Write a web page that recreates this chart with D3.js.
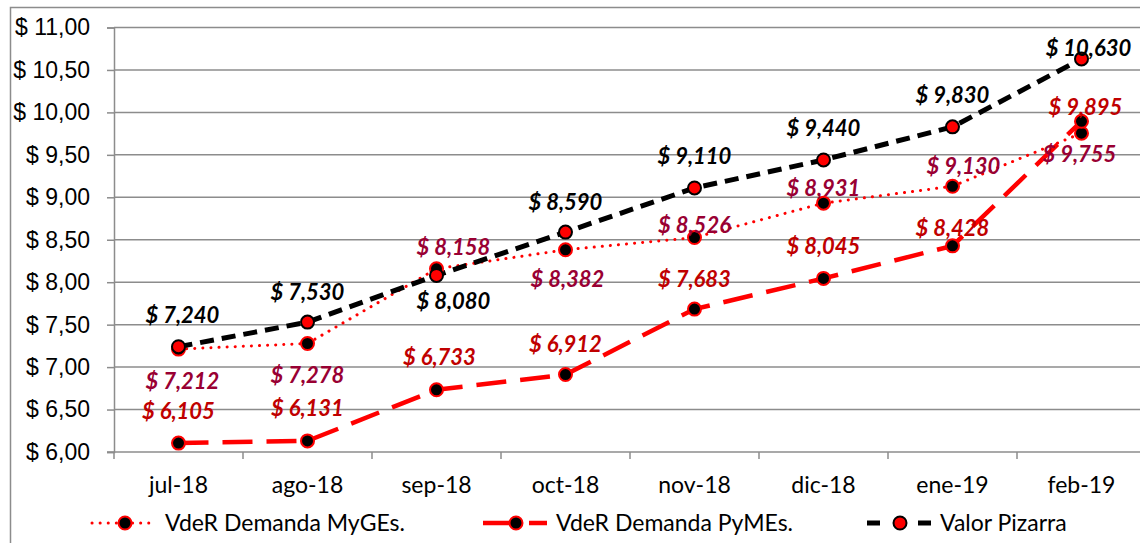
<!DOCTYPE html>
<html>
<head>
<meta charset="utf-8">
<script src="https://cdn.jsdelivr.net/npm/d3@7"></script>
<style>
  body { margin: 0; background: #fff; }
  svg { display: block; font-family: Lato, 'Open Sans', sans-serif; }
</style>
</head>
<body>
<div class="chart"></div>
<script>
const months = ['jul-18', 'ago-18', 'sep-18', 'oct-18', 'nov-18', 'dic-18', 'ene-19', 'feb-19'];
const myges = [7.212, 7.278, 8.158, 8.382, 8.526, 8.931, 9.130, 9.755];
const pymes = [6.105, 6.131, 6.733, 6.912, 7.683, 8.045, 8.428, 9.895];
const pizarra = [7.240, 7.530, 8.080, 8.590, 9.110, 9.440, 9.830, 10.630];
const yTicks = [6, 6.5, 7, 7.5, 8, 8.5, 9, 9.5, 10, 10.5, 11];

// label offsets (px) from each point, picked by eye
const offMyges = [[4, 32], [0, 32], [17, -21], [2, 30], [0, -12], [0, -15], [11, -20], [-2, 21]];
const offPymes = [[0, -32], [0, -33], [3, -32], [0, -30], [0, -30], [0, -32], [0, -18], [4, -14]];
const offPizarra = [[4, -31], [0, -30], [17, 26], [0, -30], [0, -32], [0, -32], [0, -32], [7, -11]];

const W = 1140, H = 543;
const svg = d3.select('.chart').append('svg').attr('width', W).attr('height', H);

svg.append('rect')
  .attr('x', 10.5).attr('y', 7.5).attr('width', W + 10).attr('height', H + 10)
  .attr('fill', 'none').attr('stroke', '#8c8c8c').attr('stroke-width', 1.5);

const x = d3.scaleBand().domain(months).range([114, 1146]).padding(0);
const y = d3.scaleLinear().domain([6, 11]).range([452, 27.5]);
const cx = d => x(d) + x.bandwidth() / 2;

const fmtAxis = d => '$ ' + d3.format('.2f')(d).replace('.', ',');
const fmtLabel = d => '$ ' + d3.format('.3f')(d).replace('.', ',');

// gridlines + left axis
const ya = svg.append('g').attr('transform', 'translate(114,0)')
  .call(d3.axisLeft(y).tickValues(yTicks).tickFormat(fmtAxis).tickSize(7).tickPadding(17));
ya.select('.domain').attr('stroke', '#8c8c8c').attr('stroke-width', 1.5);
ya.selectAll('.tick line').attr('stroke', '#8c8c8c').attr('stroke-width', 1.5);
ya.selectAll('.tick text').attr('font-size', 23).attr('fill', '#000');

svg.append('g').selectAll('line').data(yTicks.slice(1)).enter().append('line')
  .attr('x1', 114).attr('x2', W)
  .attr('y1', d => y(d)).attr('y2', d => y(d))
  .attr('stroke', '#8c8c8c').attr('stroke-width', 1.5);

// bottom axis
const xa = svg.append('g').attr('transform', 'translate(0,452)');
xa.append('line').attr('x1', 107).attr('x2', W).attr('stroke', '#8c8c8c').attr('stroke-width', 1.5);
xa.selectAll('.tk').data(months.concat(['end'])).enter().append('line')
  .attr('x1', (d, i) => 114 + i * x.bandwidth()).attr('x2', (d, i) => 114 + i * x.bandwidth())
  .attr('y1', 0).attr('y2', 7).attr('stroke', '#8c8c8c').attr('stroke-width', 1.5);
xa.selectAll('text').data(months).enter().append('text')
  .attr('x', d => cx(d)).attr('y', 33).attr('dy', '0.35em').attr('text-anchor', 'middle')
  .attr('font-size', 23).attr('fill', '#000').text(d => d);

const line = d3.line().x((d, i) => cx(months[i])).y(d => y(d));

const series = [
  { name: 'VdeR Demanda MyGEs.', values: myges, stroke: '#ff0000', width: 3, dash: '0.1 8', cap: 'round',
    legDash: '0.1 8', mFill: '#000', mStroke: '#ff0000', label: '#990033', off: offMyges },
  { name: 'VdeR Demanda PyMEs.', values: pymes, stroke: '#ff0000', width: 4.5, dash: '30 14', cap: 'butt',
    legDash: '36 10 18', mFill: '#000', mStroke: '#ff0000', label: '#c00000', off: offPymes },
  { name: 'Valor Pizarra', values: pizarra, stroke: '#000', width: 5, dash: '14 8', cap: 'butt',
    legDash: '13 38', mFill: '#ff0000', mStroke: '#000', label: '#000', off: offPizarra }
];

series.forEach(s => {
  svg.append('path').datum(s.values)
    .attr('d', line).attr('fill', 'none')
    .attr('stroke', s.stroke).attr('stroke-width', s.width)
    .attr('stroke-dasharray', s.dash).attr('stroke-linecap', s.cap);
});

series.forEach(s => {
  svg.append('g').selectAll('circle').data(s.values).enter().append('circle')
    .attr('cx', (d, i) => cx(months[i])).attr('cy', d => y(d)).attr('r', 6.5)
    .attr('fill', s.mFill).attr('stroke', s.mStroke).attr('stroke-width', 2);
});

series.forEach(s => {
  svg.append('g').selectAll('text').data(s.values).enter().append('text')
    .attr('x', (d, i) => cx(months[i]) + s.off[i][0])
    .attr('y', (d, i) => y(d) + s.off[i][1])
    .attr('dy', '0.35em').attr('text-anchor', 'middle')
    .attr('font-size', 22).attr('font-weight', 'bold').attr('font-style', 'italic')
    .attr('fill', s.label).text(d => fmtLabel(d));
});

// legend
const legX = [92, 483, 867];
const lg = svg.append('g').attr('transform', 'translate(0,523)');
series.forEach((s, i) => {
  const g = lg.append('g').attr('transform', 'translate(' + legX[i] + ',0)');
  g.append('line').attr('x1', 0).attr('x2', 64).attr('y1', 0).attr('y2', 0)
    .attr('stroke', s.stroke).attr('stroke-width', s.width)
    .attr('stroke-dasharray', s.legDash).attr('stroke-linecap', s.cap);
  g.append('circle').attr('cx', 33).attr('cy', 0).attr('r', 6.5)
    .attr('fill', s.mFill).attr('stroke', s.mStroke).attr('stroke-width', 2);
  g.append('text').attr('x', 73).attr('y', 0).attr('dy', '0.35em')
    .attr('font-size', 23).attr('fill', '#000').text(s.name);
});
</script>
</body>
</html>
